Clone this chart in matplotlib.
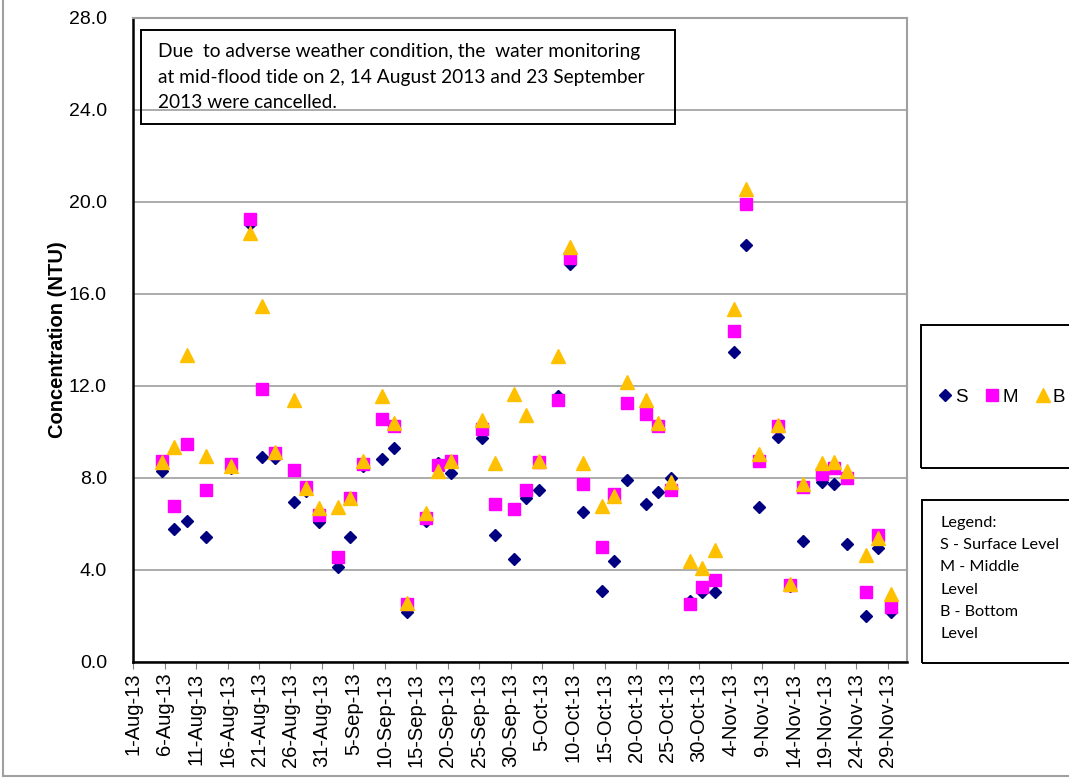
import matplotlib.pyplot as plt
from matplotlib.patches import Rectangle
from matplotlib.lines import Line2D
import pandas as pd

# monitoring dates (mid-flood tide), 2013
dates = pd.to_datetime([
    "2013-08-05", "2013-08-07", "2013-08-09", "2013-08-12", "2013-08-16", "2013-08-19",
    "2013-08-21", "2013-08-23", "2013-08-26", "2013-08-28", "2013-08-30",
    "2013-09-02", "2013-09-04", "2013-09-06", "2013-09-09", "2013-09-11", "2013-09-13",
    "2013-09-16", "2013-09-18", "2013-09-20", "2013-09-25", "2013-09-27", "2013-09-30",
    "2013-10-02", "2013-10-04", "2013-10-07", "2013-10-09", "2013-10-11", "2013-10-14",
    "2013-10-16", "2013-10-18", "2013-10-21", "2013-10-23", "2013-10-25", "2013-10-28",
    "2013-10-30",
    "2013-11-01", "2013-11-04", "2013-11-06", "2013-11-08", "2013-11-11", "2013-11-13",
    "2013-11-15", "2013-11-18", "2013-11-20", "2013-11-22", "2013-11-25", "2013-11-27",
    "2013-11-29",
])

surface = [8.29, 5.79, 6.14, 5.43, 8.44, 19.05, 8.9, 8.85, 6.94, 7.42, 6.07,
           4.12, 5.43, 8.5, 8.8, 9.31, 2.18, 6.1, 8.66, 8.19, 9.72, 5.53, 4.48,
           7.13, 7.49, 11.56, 17.31, 6.5, 3.08, 4.39, 7.9, 6.84, 7.39, 8.0, 2.62, 3.03,
           3.03, 13.45, 18.11, 6.73, 9.79, 3.3, 5.24, 7.81, 7.75, 5.14, 1.99, 4.95, 2.18]
middle = [8.73, 6.76, 9.45, 7.49, 8.58, 19.27, 11.85, 9.09, 8.33, 7.59, 6.36,
          4.54, 7.1, 8.61, 10.55, 10.25, 2.5, 6.26, 8.54, 8.73, 10.14, 6.88, 6.65,
          7.49, 8.7, 11.39, 17.57, 7.74, 4.99, 7.3, 11.24, 10.79, 10.25, 7.49, 2.5, 3.23,
          3.56, 14.4, 19.92, 8.73, 10.25, 3.35, 7.59, 8.15, 8.44, 8.0, 3.03, 5.5, 2.4]
bottom = [8.7, 9.35, 13.34, 8.95, 8.5, 18.66, 15.49, 9.1, 11.39, 7.55, 6.69,
          6.72, 7.13, 8.73, 11.56, 10.4, 2.55, 6.47, 8.29, 8.73, 10.5, 8.63, 11.64,
          10.73, 8.75, 13.28, 18.04, 8.63, 6.79, 7.21, 12.17, 11.39, 10.4, 7.81, 4.36, 4.07,
          4.84, 15.34, 20.58, 9.02, 10.3, 3.4, 7.71, 8.66, 8.7, 8.29, 4.66, 5.4, 2.94]

tick_dates = pd.date_range("2013-08-01", "2013-11-29", freq="5D")
tick_labels = [f"{d.day}-{d.strftime('%b-%y')}" for d in tick_dates]
yticks = [0, 4, 8, 12, 16, 20, 24, 28]

ARIAL = ["Liberation Sans", "DejaVu Sans"]
CALIBRI = ["Lato", "DejaVu Sans"]

fig = plt.figure(figsize=(10.69, 7.78), dpi=100)
W, H = 1069, 778
ax = fig.add_axes([133.3 / W, 1 - 661.7 / H, (906.7 - 133.3) / W, (661.7 - 18) / H])

# Excel "between tick marks" date axis: points sit mid-day
x = dates + pd.Timedelta(hours=12)

ax.plot(x, surface, linestyle="none", marker="D", ms=6.6, color="#000080", zorder=3)
ax.plot(x, middle, linestyle="none", marker="s", ms=9, color="#FF00FF", zorder=4)
ax.plot(x, bottom, linestyle="none", marker="^", ms=10, color="#FFC000", zorder=5)

ax.set_xlim(pd.Timestamp("2013-08-01"), pd.Timestamp("2013-12-02"))
ax.set_ylim(0, 28)
ax.set_yticks(yticks)
ax.set_yticklabels([f"{v:.1f}" for v in yticks], family=ARIAL, fontsize=14)
ax.set_xticks(tick_dates)
ax.set_xticklabels(tick_labels, rotation=90, family=ARIAL, fontsize=14.5)
ax.tick_params(axis="x", length=5, color="#808080", pad=3)
ax.tick_params(axis="y", length=0, pad=19)
ax.grid(True, axis="y", color="#A6A6A6", lw=1.3)
ax.set_axisbelow(True)
for s in ["top", "right"]:
    ax.spines[s].set_color("#A0A0A0")
    ax.spines[s].set_linewidth(1.5)
for s in ["left", "bottom"]:
    ax.spines[s].set_color("black")
    ax.spines[s].set_linewidth(1.8)

ax.set_ylabel("Concentration (NTU)", family=ARIAL, fontsize=14.5, fontweight="bold",
              va="center")
ax.yaxis.set_label_coords(-0.098, 0.5)


def fig_rect(x0, y0, x1, y1):
    return Rectangle((x0 / W, 1 - y1 / H), (x1 - x0) / W, (y1 - y0) / H,
                     transform=fig.transFigure, fill=False, ec="black", lw=1.4, zorder=10)


# note box
fig.patches.append(fig_rect(141, 30, 675, 124))
note = ["Due  to adverse weather condition, the  water monitoring",
        "at mid-flood tide on 2, 14 August 2013 and 23 September",
        "2013 were cancelled."]
for i, line in enumerate(note):
    fig.text(158 / W, 1 - (52 + 25 * i) / H, line, family=CALIBRI, fontsize=13.8,
             va="center", ha="left")

# series legend box
fig.patches.append(fig_rect(921, 325, 1075, 468))
handles = [Line2D([], [], ls="none", marker="D", ms=6.6, color="#000080"),
           Line2D([], [], ls="none", marker="s", ms=9, color="#FF00FF"),
           Line2D([], [], ls="none", marker="^", ms=10, color="#FFC000")]
fig.legend(handles, ["S", "M", "B"], loc="center left", bbox_to_anchor=(932 / W, 1 - 397 / H),
           ncol=3, frameon=False, prop={"family": ARIAL, "size": 13.5},
           handlelength=0.6, handletextpad=0.25, columnspacing=1.0, borderaxespad=0)

# level legend box
fig.patches.append(fig_rect(922, 500, 1075, 663))
levels = ["Legend:", "S - Surface Level", "M - Middle", "Level", "B - Bottom", "Level"]
for i, line in enumerate(levels):
    fig.text(940 / W, 1 - (523 + 22.2 * i) / H, line, family=CALIBRI, fontsize=11.7,
             va="center", ha="left")

# outer chart border
fig.lines.append(Line2D([3 / W, 3 / W], [1 - 776 / H, 1], transform=fig.transFigure,
                        color="#A0A0A0", lw=1.5))
fig.lines.append(Line2D([3 / W, 1], [1 - 776 / H, 1 - 776 / H], transform=fig.transFigure,
                        color="#A0A0A0", lw=1.5))

fig.savefig("out.png", dpi=100)
